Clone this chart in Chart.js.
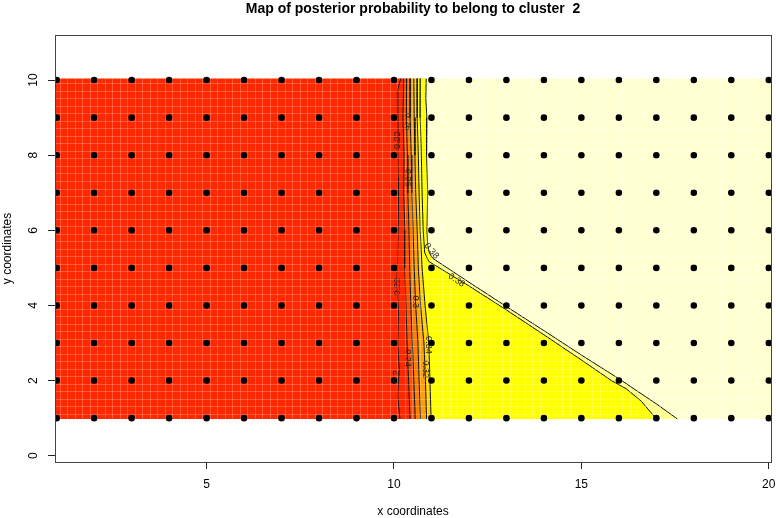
<!DOCTYPE html>
<html>
<head>
<meta charset="utf-8">
<script src="https://cdn.jsdelivr.net/npm/chart.js@4.4.1/dist/chart.umd.min.js"></script>
<style>
  html, body { margin: 0; padding: 0; background: #fff; }
  canvas { display: block; }
</style>
</head>
<body>
<canvas id="map" width="776" height="518"></canvas>
<script>
// axis ranges and ticks
const X_MIN = 0.955, X_MAX = 20.06;
const Y_MIN = -0.168, Y_MAX = 11.2;
const X_TICKS = [5, 10, 15, 20];
const Y_TICKS = [0, 2, 4, 6, 8, 10];

// grid of observation sites
const GRID_X = [1, 2, 3, 4, 5, 6, 7, 8, 9, 10, 11, 12, 13, 14, 15, 16, 17, 18, 19, 20];
const GRID_Y = [1, 2, 3, 4, 5, 6, 7, 8, 9, 10];

// colored field extent
const FIELD_X = [0.9, 20.1];
const FIELD_Y = [0.98, 10.04];

// contour lines, [x, y]
const L022 = [[10.18,10.04],[10.09,9.7],[10.1,9.0],[10.1,8.2],[10.11,7.4],[10.12,6.5],[10.1,5.5],[10.08,4.6],[10.12,3.8],[10.1,3.0],[10.14,2.3],[10.1,1.6],[10.16,0.98]];
const L024 = [[10.26,10.04],[10.24,9],[10.27,8],[10.26,7],[10.29,6],[10.29,5],[10.32,4],[10.35,3],[10.39,2],[10.43,0.98]];
const L026 = [[10.34,10.04],[10.33,9],[10.36,8],[10.37,7],[10.4,6],[10.42,5],[10.45,4],[10.49,3],[10.53,2],[10.57,0.98]];
const L030 = [[10.43,10.04],[10.43,9],[10.46,8],[10.48,7],[10.51,6],[10.54,5],[10.58,4],[10.64,3],[10.67,2],[10.71,0.98]];
const L032 = [[10.53,10.04],[10.54,9],[10.56,8],[10.58,7],[10.62,6],[10.65,5],[10.71,4],[10.8,3],[10.84,2],[10.87,0.98]];
const L034 = [[10.62,10.04],[10.62,9],[10.65,8],[10.67,7],[10.7,6],[10.75,5],[10.83,4],[10.93,3],[10.96,2],[10.99,0.98]];
const L036 = [[10.71,10.04],[10.7,9],[10.73,8],[10.75,7],[10.78,6],[10.82,5.4],[10.93,5.17],[12,4.52],[13,3.88],[14,3.22],[15,2.55],[15.8,2.0],[16.2,1.78],[16.6,1.45],[17.0,0.98]];
const L038 = [[10.86,10.04],[10.85,9.5],[10.88,9],[10.87,8],[10.9,7],[10.88,6],[10.9,5.6],[10.95,5.38],[11.04,5.25],[12,4.62],[13,3.97],[14,3.33],[15,2.68],[16,2.05],[17,1.38],[17.56,0.98]];

// contour labels
const LABEL_TEXT = ['0.22', '0.26', '0.26', '0.22', '0.3', '0.24', '0.34', '0.32', '0.2', '0.38', '0.38'];
const LABEL_X = [10.1, 10.37, 10.37, 10.1, 10.58, 10.37, 10.93, 10.85, 10.08, 11.0, 11.67];
const LABEL_Y = [8.4, 8.9, 7.4, 4.5, 4.1, 2.6, 2.95, 2.3, 2.1, 5.45, 4.67];
const LABEL_ANGLE = [-90, 90, 90, -90, 90, 90, 90, 90, -90, 50, 33];

const FONT = '"Liberation Sans", Arial, Helvetica, sans-serif';
Chart.defaults.font.family = FONT;
Chart.defaults.color = '#000';

const xy = p => ({ x: p[0], y: p[1] });

// closed ring -> path whose extra legs lie on one horizontal line (zero area)
function ring(pts) {
  const p0 = pts[0];
  return [[FIELD_X[0], p0[1]], ...pts, p0, [FIELD_X[1], p0[1]]].map(xy);
}
function band(left, right) {
  return ring(left.concat(right.slice().reverse()));
}

function area(points, color, order) {
  return {
    type: 'line', data: points, order,
    backgroundColor: color, borderColor: 'rgba(0,0,0,0)', borderWidth: 1,
    pointRadius: 0, fill: 'shape', tension: 0
  };
}
function contour(line) {
  return {
    type: 'line', data: line.map(xy), order: 5,
    borderColor: '#111', borderWidth: 1, pointRadius: 0, fill: false, tension: 0
  };
}

const leftEdge = [[FIELD_X[0], FIELD_Y[1]], [FIELD_X[0], FIELD_Y[0]]];
const rightEdge = [[FIELD_X[1], FIELD_Y[1]], [FIELD_X[1], FIELD_Y[0]]];

const sites = [];
GRID_Y.forEach(y => GRID_X.forEach(x => sites.push({ x, y })));

const texture = [];
for (let v = 1.1; v < 20.05; v += 0.2) texture.push(+v.toFixed(2));
const textureY = [];
for (let v = 1.1; v < 10.05; v += 0.2) textureY.push(+v.toFixed(2));

const contourLabels = {
  id: 'contourLabels',
  afterDatasetsDraw(chart) {
    const { ctx, scales: { x, y }, chartArea } = chart;
    ctx.save();
    ctx.beginPath();
    ctx.rect(chartArea.left, chartArea.top, chartArea.width, chartArea.height);
    ctx.clip();
    ctx.font = '9px ' + FONT;
    ctx.fillStyle = '#222';
    ctx.textAlign = 'center';
    ctx.textBaseline = 'middle';
    LABEL_TEXT.forEach((t, i) => {
      ctx.save();
      ctx.translate(x.getPixelForValue(LABEL_X[i]), y.getPixelForValue(LABEL_Y[i]));
      ctx.rotate(LABEL_ANGLE[i] * Math.PI / 180);
      ctx.fillText(t, 0, 0);
      ctx.restore();
    });
    ctx.restore();
  }
};

const plotBox = {
  id: 'plotBox',
  afterDraw(chart) {
    const { ctx, chartArea: a } = chart;
    ctx.save();
    ctx.strokeStyle = '#444';
    ctx.lineWidth = 1;
    ctx.strokeRect(a.left + 0.5, a.top + 0.5, a.width, a.height);
    ctx.restore();
  }
};

const noPad = s => { s.paddingLeft = 0; s.paddingRight = 0; s.paddingTop = 0; s.paddingBottom = 0; };

new Chart(document.getElementById('map'), {
  type: 'scatter',
  data: {
    datasets: [
      { data: sites, order: 0, pointRadius: 3.3, pointHoverRadius: 3.3,
        backgroundColor: '#000', borderWidth: 0 },
      contour(L022), contour(L024), contour(L026), contour(L030),
      contour(L032), contour(L034), contour(L036), contour(L038),
      area(band(L036.slice(6), L038.slice(8)), '#FFFF8C', 23),
      area(band(L034, L038), '#FFFF00', 24),
      area(band(L032, L034), '#FFD000', 25),
      area(band(L030, L032), '#FFA000', 26),
      area(band(L026, L030), '#FF7E00', 27),
      area(band(L024, L026), '#FF5200', 28),
      area(band(leftEdge, L024), '#FF2800', 29),
      area(band(leftEdge, rightEdge), '#FFFFD2', 30)
    ]
  },
  options: {
    responsive: false,
    animation: false,
    devicePixelRatio: 1,
    events: [],
    layout: { padding: { left: 0, right: 5, top: 0, bottom: 0 } },
    plugins: {
      legend: { display: false },
      tooltip: { enabled: false },
      title: {
        display: true, fullSize: false,
        text: 'Map of posterior probability to belong to cluster  2',
        font: { size: 14, weight: 'bold', lineHeight: 1.2 },
        color: '#000',
        padding: { top: 0.6, bottom: 17.6 }
      }
    },
    scales: {
      x: {
        type: 'linear', position: 'bottom', min: X_MIN, max: X_MAX,
        afterBuildTicks: s => { s.ticks = X_TICKS.map(v => ({ value: v })); },
        afterFit: s => { s.height = 56; noPad(s); },
        ticks: { font: { size: 12 }, padding: 8, maxRotation: 0 },
        grid: { drawOnChartArea: false, drawTicks: true, tickLength: 7, color: '#222' },
        border: { display: false },
        title: { display: true, text: 'x coordinates', font: { size: 12, lineHeight: 1 }, padding: { top: 0, bottom: 0 } }
      },
      y: {
        type: 'linear', position: 'left', min: Y_MIN, max: Y_MAX,
        afterBuildTicks: s => { s.ticks = Y_TICKS.map(v => ({ value: v })); },
        afterFit: s => { s.width = 55; noPad(s); },
        ticks: { font: { size: 12 }, padding: 8, minRotation: 90, maxRotation: 90, crossAlign: 'center' },
        grid: { drawOnChartArea: false, drawTicks: true, tickLength: 7, color: '#222' },
        border: { display: false },
        title: { display: true, text: 'y coordinates', font: { size: 12, lineHeight: 1 }, padding: { top: 2, bottom: 0 } }
      },
      xg: {
        type: 'linear', position: 'top', min: X_MIN, max: X_MAX,
        afterBuildTicks: s => { s.ticks = texture.map(v => ({ value: v })); },
        afterFit: s => { s.height = 0; noPad(s); },
        ticks: { display: false },
        grid: { color: 'rgba(255,255,255,0.22)', drawTicks: false, z: 1 },
        border: { display: false }
      },
      yg: {
        type: 'linear', position: 'right', min: Y_MIN, max: Y_MAX,
        afterBuildTicks: s => { s.ticks = textureY.map(v => ({ value: v })); },
        afterFit: s => { s.width = 0; noPad(s); },
        ticks: { display: false },
        grid: { color: 'rgba(255,255,255,0.22)', drawTicks: false, z: 1 },
        border: { display: false }
      }
    }
  },
  plugins: [contourLabels, plotBox]
});
</script>
</body>
</html>
